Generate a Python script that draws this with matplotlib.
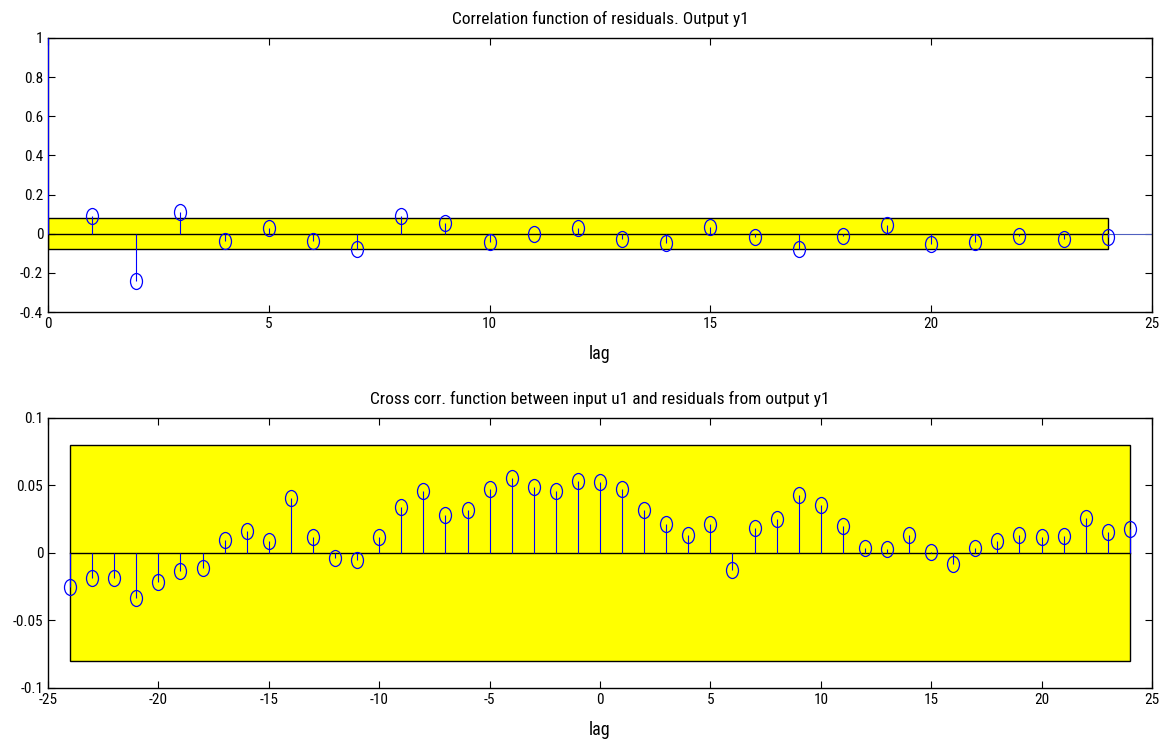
import numpy as np
import matplotlib.pyplot as plt
from matplotlib.patches import Rectangle
from matplotlib.path import Path

plt.rcParams['font.family'] = ['Roboto Condensed', 'Liberation Sans', 'DejaVu Sans']
plt.rcParams['axes.unicode_minus'] = False

# autocorrelation of residuals, lags 0..24
ac_lags = np.arange(0, 25)
ac_vals = [1.0, 0.09, -0.24, 0.11, -0.039, 0.029, -0.039, -0.078, 0.09, 0.056,
           -0.044, 0.0, 0.029, -0.026, -0.046, 0.036, -0.017, -0.078, -0.012,
           0.045, -0.05, -0.044, -0.012, -0.026, -0.017]
ac_conf = 0.08

# cross correlation input u1 / residuals, lags -24..24
cc_lags = np.arange(-24, 25)
cc_vals = [-0.0255, -0.0185, -0.0185, -0.033, -0.0215, -0.013, -0.011, 0.0096,
           0.0165, 0.0086, 0.0407, 0.0118, -0.004, -0.005, 0.0116, 0.0338,
           0.0456, 0.0281, 0.0321, 0.0476, 0.0553, 0.0486, 0.0456, 0.0536,
           0.0526, 0.0477, 0.0321, 0.0212, 0.0136, 0.0212, -0.0128, 0.0185,
           0.0254, 0.043, 0.0358, 0.0202, 0.004, 0.003, 0.0136, 0.0007,
           -0.0079, 0.004, 0.0086, 0.0136, 0.0119, 0.0126, 0.0262, 0.0156,
           0.0175]
cc_conf = 0.08

# slightly tall ellipse, like the stretched matlab circles
circ = Path.unit_circle()
ellipse = Path(circ.vertices * [0.75, 1.0], circ.codes)

fig = plt.figure(figsize=(11.65, 7.42), dpi=100)
ax1 = fig.add_axes([0.0412, 0.5795, 0.9476, 0.3693])
ax2 = fig.add_axes([0.0412, 0.0728, 0.9476, 0.3639])


def draw_stems(ax, lags, vals, conf, xlim, ylim, mark_from=0):
    ax.add_patch(Rectangle((lags[0], -conf), lags[-1] - lags[0], 2 * conf,
                           facecolor='#ffff00', edgecolor='black', lw=1.0, zorder=1))
    ax.plot([lags[0], lags[-1]], [0, 0], color='black', lw=1.0, zorder=2)
    ax.vlines(lags, 0, vals, color='blue', lw=0.8, zorder=3)
    ax.plot(lags[mark_from:], vals[mark_from:], linestyle='none', marker=ellipse,
            mfc='none', mec='blue', ms=11.5, mew=0.9, zorder=4)
    ax.set_xlim(*xlim)
    ax.set_ylim(*ylim)
    ax.tick_params(direction='in', top=True, right=True, length=5, width=0.8,
                   labelsize=11)
    for s in ax.spines.values():
        s.set_linewidth(1.0)


ax1.set_yticks(np.arange(-0.4, 1.01, 0.2))
ax1.set_yticklabels(['-0.4', '-0.2', '0', '0.2', '0.4', '0.6', '0.8', '1'])
ax1.set_xticks(np.arange(0, 26, 5))
draw_stems(ax1, ac_lags, ac_vals, ac_conf, (0, 25), (-0.4, 1), mark_from=1)
ax1.plot([24, 25], [0, 0], color='#5060c0', lw=0.8, zorder=2)
ax1.set_title('Correlation function of residuals. Output y1', fontsize=12.5, pad=10)
ax1.set_xlabel('lag', fontsize=13, labelpad=10)

ax2.set_yticks([-0.1, -0.05, 0, 0.05, 0.1])
ax2.set_yticklabels(['-0.1', '-0.05', '0', '0.05', '0.1'])
ax2.set_xticks(np.arange(-25, 26, 5))
draw_stems(ax2, cc_lags, cc_vals, cc_conf, (-25, 25), (-0.1, 0.1))
ax2.set_title('Cross corr. function between input u1 and residuals from output y1',
              fontsize=12.5, pad=10)
ax2.set_xlabel('lag', fontsize=13, labelpad=10)

fig.savefig('out.png', dpi=100)
